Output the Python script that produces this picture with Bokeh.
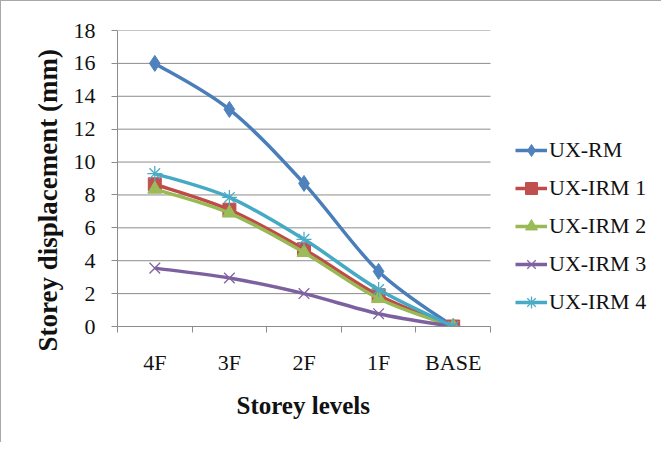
import numpy as np
from bokeh.plotting import figure
from bokeh.models import Range1d, FixedTicker, Legend, LegendItem, Title
from bokeh.embed import file_html
from bokeh.resources import INLINE

# ---- data ----
levels = ["4F", "3F", "2F", "1F", "BASE"]
ux_rm = [16.0, 13.2, 8.7, 3.35, 0.0]
ux_irm1 = [8.65, 7.1, 4.7, 1.9, 0.0]
ux_irm2 = [8.35, 6.9, 4.5, 1.7, 0.0]
ux_irm3 = [3.55, 2.95, 2.0, 0.78, 0.0]
ux_irm4 = [9.3, 7.85, 5.3, 2.25, 0.0]
y_ticks = [0, 2, 4, 6, 8, 10, 12, 14, 16, 18]
x_title = "Storey levels"
y_title = "Storey displacement (mm)"

series_names = ["UX-RM", "UX-IRM 1", "UX-IRM 2", "UX-IRM 3", "UX-IRM 4"]
series_vals = [ux_rm, ux_irm1, ux_irm2, ux_irm3, ux_irm4]
line_colors = ["#4A7EBB", "#BE4B48", "#98B954", "#7D60A0", "#46AAC5"]
fill_colors = ["#4F81BD", "#C0504D", "#9BBB59", "#8064A2", "#4BACC6"]
markers = ["diamond", "square", "triangle", "x", "asterisk"]
msizes = [16, 13, 14, 15, 15]

FONT = "Liberation Serif"
GRID = "#8c8c8c"
TXT = "#111111"

n_cat = len(levels)
x_pos = [i + 0.5 for i in range(n_cat)]

W, H = 661, 442
frame_left, cat_right = 116, 489          # figure pixels
x_end = n_cat * (W - frame_left) / (cat_right - frame_left)

p = figure(width=W, height=H, output_backend="svg", toolbar_location=None,
           x_range=Range1d(0, x_end), y_range=Range1d(0, 18))
p.min_border_left = frame_left
p.min_border_right = 0
p.min_border_top = 29
p.min_border_bottom = 117
p.outline_line_color = None
p.background_fill_color = "white"
p.border_fill_color = "white"
p.styles = {"border-left": "1px solid #a8a8a8", "border-top": "1px solid #a8a8a8"}

# horizontal grid lines only across the category area
p.segment(x0=[0] * len(y_ticks), x1=[n_cat] * len(y_ticks), y0=y_ticks, y1=y_ticks,
          line_color=GRID, line_width=1, level="underlay")

# axes
xa = p.xaxis[0]
xa.bounds = (0, n_cat)
xa.ticker = FixedTicker(ticks=x_pos, minor_ticks=list(range(n_cat + 1)))
xa.major_label_overrides = {x: lab for x, lab in zip(x_pos, levels)}
xa.major_tick_line_color = None
xa.major_tick_out = 0
xa.major_tick_in = 0
xa.minor_tick_line_color = GRID
xa.minor_tick_in = 0
xa.minor_tick_out = 6
xa.axis_line_color = GRID
xa.major_label_text_font = FONT
xa.major_label_text_font_size = "22px"
xa.major_label_text_color = TXT
xa.major_label_standoff = 17

ya = p.yaxis[0]
ya.ticker = FixedTicker(ticks=y_ticks)
ya.major_tick_line_color = GRID
ya.major_tick_out = 6
ya.major_tick_in = 0
ya.minor_tick_line_color = None
ya.axis_line_color = GRID
ya.major_label_text_font = FONT
ya.major_label_text_font_size = "22px"
ya.major_label_text_color = TXT
ya.major_label_standoff = 16

p.xgrid.grid_line_color = None
p.ygrid.grid_line_color = None

# axis titles (placed as titles so they can be offset like the original)
xt = Title(text=x_title, align="left", offset=119, standoff=25,
           text_font=FONT, text_font_size="25px", text_font_style="bold",
           text_color=TXT, padding=(0, 7, 0, 0))
p.add_layout(xt, "below")
yt = Title(text=y_title, align="left", offset=-25, standoff=15,
           text_font=FONT, text_font_size="27px", text_font_style="bold",
           text_color=TXT)
p.add_layout(yt, "left")


def smooth_controls(xs, ys):
    """Bezier control points for a smoothed (Catmull-Rom style) line through the data."""
    n = len(xs)
    x0, y0, x1, y1, cx0, cy0, cx1, cy1 = ([] for _ in range(8))
    for i in range(n - 1):
        pm = i - 1 if i > 0 else i
        pp = i + 2 if i + 2 < n else i + 1
        x0.append(xs[i]); y0.append(ys[i])
        x1.append(xs[i + 1]); y1.append(ys[i + 1])
        cx0.append(xs[i] + (xs[i + 1] - xs[pm]) / 6.0)
        cy0.append(ys[i] + (ys[i + 1] - ys[pm]) / 6.0)
        cx1.append(xs[i + 1] - (xs[pp] - xs[i]) / 6.0)
        cy1.append(ys[i + 1] - (ys[pp] - ys[i]) / 6.0)
    return dict(x0=x0, y0=y0, x1=x1, y1=y1, cx0=cx0, cy0=cy0, cx1=cx1, cy1=cy1)


items = []
for name, vals, lc, fc, mk, ms in zip(series_names, series_vals, line_colors,
                                      fill_colors, markers, msizes):
    c = smooth_controls(x_pos, vals)
    p.bezier(x0=c["x0"], y0=c["y0"], x1=c["x1"], y1=c["y1"],
             cx0=c["cx0"], cy0=c["cy0"], cx1=c["cx1"], cy1=c["cy1"],
             line_color=lc, line_width=3.5)
    leg_line = p.line(x_pos, vals, line_color=lc, line_width=3.5, visible=False)
    if mk in ("x", "asterisk"):
        sc = p.scatter(x_pos, vals, marker=mk, size=ms, line_color=fc, line_width=1.3)
    else:
        sc = p.scatter(x_pos, vals, marker=mk, size=ms, fill_color=fc, line_color=fc)
    items.append(LegendItem(label=name, renderers=[leg_line, sc]))

legend = Legend(items=items, location=(398, 9))
legend.background_fill_alpha = 0
legend.border_line_color = None
legend.margin = 0
legend.padding = 0
legend.spacing = 8
legend.glyph_width = 32
legend.glyph_height = 30
legend.label_height = 30
legend.label_standoff = 2
legend.label_text_font = FONT
legend.label_text_font_size = "22px"
legend.label_text_color = TXT
p.add_layout(legend, "center")

open("out.html", "w").write(file_html(p, INLINE))
